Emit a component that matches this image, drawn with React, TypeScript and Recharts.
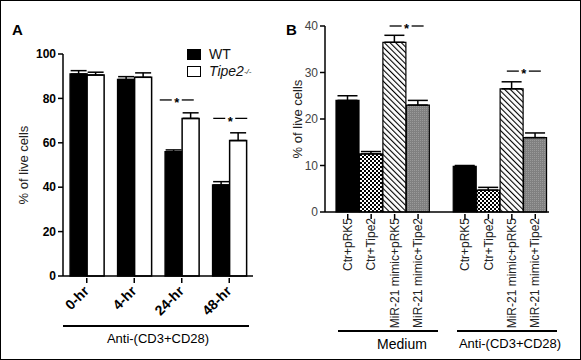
import { BarChart, Bar, XAxis, YAxis, ErrorBar, Cell, ReferenceDot } from 'recharts';

// Panel A: viability over time, WT vs Tipe2-/-
const timePoints = ['0-hr', '4-hr', '24-hr', '48-hr'];
const wtValues = [91, 88.5, 56, 41];
const wtErrors = [1.5, 1.3, 0.8, 1.5];
const tipeValues = [90.5, 89.5, 71, 61];
const tipeErrors = [1.3, 2, 2.5, 3.5];
const ticksA = [0, 20, 40, 60, 80, 100];

// Panel B: MiR-21 mimic / Tipe2 transfection
const groupIds = ['m1', 'm2', 'm3', 'm4', 'gap', 'a1', 'a2', 'a3', 'a4'];
const groupLabels = ['Ctr+pRK5', 'Ctr+Tipe2', 'MiR-21 mimic+pRK5', 'MiR-21 mimic+Tipe2', '', 'Ctr+pRK5', 'Ctr+Tipe2', 'MiR-21 mimic+pRK5', 'MiR-21 mimic+Tipe2'];
const bValues = [24, 12.5, 36.5, 23, null, 9.8, 4.7, 26.5, 16];
const bErrors = [1, 0.5, 1.5, 1, null, 0.2, 0.6, 1.5, 1];
const ticksB = [0, 10, 20, 30, 40];

const dataA = timePoints.map((t, i) => ({
  time: t,
  wt: wtValues[i],
  wtErr: [0, wtErrors[i]],
  tipe: tipeValues[i],
  tipeErr: [0, tipeErrors[i]],
}));

const dataB = groupIds.map((id, i) => ({
  id,
  label: groupLabels[i],
  v: bValues[i],
  err: bErrors[i] == null ? null : [0, bErrors[i]],
}));

const FILLS_B = ['#000', 'url(#check)', 'url(#hatch)', 'url(#gray)', 'none', '#000', 'url(#check)', 'url(#hatch)', 'url(#gray)'];

const SANS = 'Liberation Sans, Arial, sans-serif';

const TickA = ({ x, y, payload }: any) => (
  <g>
    <line x1={x} x2={x} y1={y} y2={y + 5} stroke="#000" strokeWidth={1.5} />
    <text
      x={x + 3}
      y={y + 14}
      transform={`rotate(-45, ${x + 3}, ${y + 14})`}
      textAnchor="end"
      fontFamily={SANS}
      fontWeight="bold"
      fontSize={14}
      fill="#000"
    >
      {payload.value}
    </text>
  </g>
);

const TickB = ({ x, y, payload }: any) => {
  const idx = groupIds.indexOf(payload.value);
  const label = groupLabels[idx];
  if (!label) return <g />;
  return (
    <g>
      <line x1={x} x2={x} y1={y} y2={y + 5} stroke="#000" strokeWidth={1.5} />
      <text
        x={x}
        y={y + 4}
        dy="0.35em"
        transform={`rotate(-90, ${x}, ${y + 4})`}
        textAnchor="end"
        fontFamily={SANS}
        fontSize={12}
        fill="#222"
      >
        {label}
      </text>
    </g>
  );
};

// "—*—" significance marker
const star = (dx: number) => (p: any) => {
  const cx = p.cx + dx;
  return (
    <g>
      <line x1={cx - 17} x2={cx - 5} y1={p.cy} y2={p.cy} stroke="#000" strokeWidth={1.3} />
      <line x1={cx + 5} x2={cx + 17} y1={p.cy} y2={p.cy} stroke="#000" strokeWidth={1.3} />
      <text x={cx} y={p.cy} dy="0.55em" textAnchor="middle" fontFamily={SANS} fontSize={13} fontWeight="bold" fill="#000">
        *
      </text>
    </g>
  );
};

export default function App() {
  return (
    <div style={{ position: 'relative', width: 581, height: 360, boxSizing: 'border-box', border: '1px solid #000', background: '#fff', fontFamily: SANS }}>
      <style>{'body{margin:0}'}</style>

      <div style={{ position: 'absolute', left: 11, top: 20, fontSize: 15, fontWeight: 'bold' }}>A</div>
      <div style={{ position: 'absolute', left: 285, top: 20, fontSize: 15, fontWeight: 'bold' }}>B</div>

      <div style={{ position: 'absolute', left: -1, top: -1 }}>
        <BarChart width={290} height={360} data={dataA} margin={{ top: 54, right: 37, left: 0, bottom: 0 }} barCategoryGap="15%" barGap={0}>
          <XAxis dataKey="time" height={84} stroke="#000" strokeWidth={1.5} tickLine={false} tickSize={0} tick={<TickA />} interval={0} />
          <YAxis
            width={63}
            domain={[0, 100]}
            ticks={ticksA}
            stroke="#000"
            strokeWidth={1.5}
            tickSize={5}
            tick={{ fill: '#000', fontSize: 12, fontWeight: 'bold', fontFamily: SANS }}
            label={{ value: '% of live cells', angle: -90, position: 'center', dx: -8, fill: '#222', fontSize: 13, fontFamily: SANS }}
          />
          <Bar dataKey="wt" fill="#000" stroke="#000" strokeWidth={1.5} isAnimationActive={false}>
            <ErrorBar dataKey="wtErr" width={8} stroke="#000" strokeWidth={1.5} />
          </Bar>
          <Bar dataKey="tipe" fill="#fff" stroke="#000" strokeWidth={1.5} isAnimationActive={false}>
            <ErrorBar dataKey="tipeErr" width={8} stroke="#000" strokeWidth={1.5} />
          </Bar>
          <ReferenceDot x="24-hr" y={79.3} r={1} shape={star(-5)} />
          <ReferenceDot x="48-hr" y={71} r={1} shape={star(1)} />
        </BarChart>
      </div>

      {/* legend A */}
      <div style={{ position: 'absolute', left: 186, top: 45, fontSize: 14, lineHeight: '17px', color: '#111' }}>
        <div style={{ display: 'flex', alignItems: 'center' }}>
          <span style={{ display: 'inline-block', width: 14, height: 11, background: '#000', marginRight: 8 }} />
          WT
        </div>
        <div style={{ display: 'flex', alignItems: 'center' }}>
          <span style={{ display: 'inline-block', width: 12, height: 9, border: '1px solid #000', marginRight: 8 }} />
          <i>Tipe2</i>
          <sup style={{ fontSize: 8, fontStyle: 'italic', alignSelf: 'flex-start' }}>-/-</sup>
        </div>
      </div>

      {/* group label A */}
      <div style={{ position: 'absolute', left: 62, top: 324, width: 186, height: 2, background: '#000' }} />
      <div style={{ position: 'absolute', left: 62, top: 330, width: 190, textAlign: 'center', fontSize: 13 }}>Anti-(CD3+CD28)</div>

      <div style={{ position: 'absolute', left: 289, top: -1 }}>
        <BarChart width={291} height={360} data={dataB} margin={{ top: 26, right: 32, left: 0, bottom: 0 }} barCategoryGap={0}>
          <defs>
            <pattern id="check" width="4" height="4" patternUnits="userSpaceOnUse">
              <rect width="4" height="4" fill="#fff" />
              <rect width="2" height="2" fill="#000" />
              <rect x="2" y="2" width="2" height="2" fill="#000" />
            </pattern>
            <pattern id="hatch" width="4" height="4" patternUnits="userSpaceOnUse" patternTransform="rotate(-45)">
              <rect width="4" height="4" fill="#fff" />
              <line x1="0" y1="0" x2="0" y2="4" stroke="#000" strokeWidth="2.2" />
            </pattern>
            <pattern id="gray" width="2" height="2" patternUnits="userSpaceOnUse">
              <rect width="2" height="2" fill="#808080" />
              <rect width="1" height="1" fill="#9a9a9a" />
            </pattern>
          </defs>
          <XAxis
            dataKey="id"
            height={148}
            stroke="#000"
            strokeWidth={1.5}
            tickLine={false}
            tickSize={0}
            tick={<TickB />}
            interval={0}
            padding={{ left: 11, right: 2 }}
          />
          <YAxis
            width={35}
            domain={[0, 40]}
            ticks={ticksB}
            stroke="#000"
            strokeWidth={1.5}
            tickSize={5}
            tick={{ fill: '#444', fontSize: 12, fontFamily: SANS }}
            label={{ value: '% of live cells', angle: -90, position: 'center', dx: -10, fill: '#222', fontSize: 13, fontFamily: SANS }}
          />
          <Bar dataKey="v" stroke="#000" strokeWidth={1.2} isAnimationActive={false}>
            {dataB.map((d, i) => (
              <Cell key={d.id} fill={FILLS_B[i]} />
            ))}
            <ErrorBar dataKey="err" width={10} stroke="#000" strokeWidth={1.5} />
          </Bar>
          <ReferenceDot x="m3" y={40} r={1} shape={star(12)} ifOverflow="visible" />
          <ReferenceDot x="a3" y={30.3} r={1} shape={star(12)} />
        </BarChart>
      </div>

      {/* group labels B */}
      <div style={{ position: 'absolute', left: 337, top: 329, width: 100, height: 2, background: '#000' }} />
      <div style={{ position: 'absolute', left: 343, top: 335, width: 116, textAlign: 'center', fontSize: 14 }}>Medium</div>
      <div style={{ position: 'absolute', left: 456, top: 329, width: 100, height: 2, background: '#000' }} />
      <div style={{ position: 'absolute', left: 451, top: 335, width: 116, textAlign: 'center', fontSize: 13 }}>Anti-(CD3+CD28)</div>
    </div>
  );
}
